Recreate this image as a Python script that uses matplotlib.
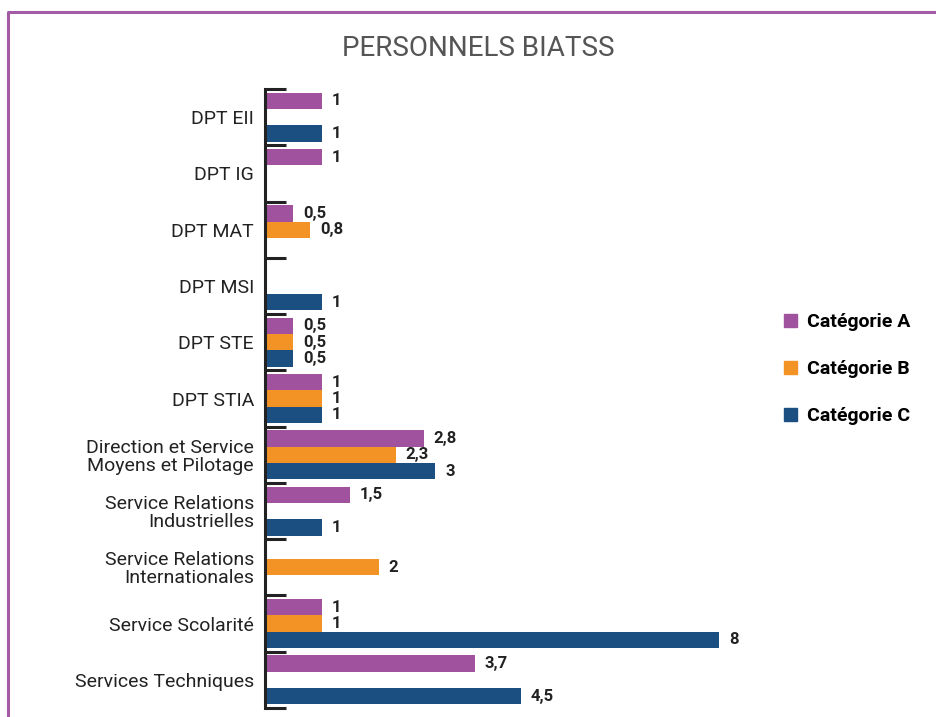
import numpy as np
import matplotlib.pyplot as plt
from matplotlib.patches import Patch
from matplotlib.lines import Line2D

categories = ['DPT EII', 'DPT IG', 'DPT MAT', 'DPT MSI', 'DPT STE', 'DPT STIA',
              'Direction et Service\nMoyens et Pilotage',
              'Service Relations\nIndustrielles',
              'Service Relations\nInternationales',
              'Service Scolarité', 'Services Techniques']
cat_a = [1, 1, 0.5, 0, 0.5, 1, 2.8, 1.5, 0, 1, 3.7]
cat_b = [0, 0, 0.8, 0, 0.5, 1, 2.3, 0, 2, 1, 0]
cat_c = [1, 0, 0, 1, 0.5, 1, 3, 1, 0, 8, 4.5]
series_names = ['Catégorie A', 'Catégorie B', 'Catégorie C']
colors = ['#A0529E', '#F39325', '#1B4F82']

plt.rcParams['font.family'] = ['Roboto', 'DejaVu Sans']

fig = plt.figure(figsize=(9.37, 7.17), dpi=100)
ax = fig.add_axes([265/937, 1 - 708/717, 9*56.8/937, (708 - 89)/717])

y = np.arange(len(categories))
h = 0.29
for k, (vals, col) in enumerate(zip([cat_a, cat_b, cat_c], colors)):
    bars = ax.barh(y + (k - 1)*h, vals, height=h, color=col)
    labels = ['' if v == 0 else f'{v:g}'.replace('.', ',') for v in vals]
    ax.bar_label(bars, labels=labels, padding=7, fontsize=12, fontweight='bold', color='#222222')

ax.set_ylim(len(categories) - 0.5, -0.5)
ax.set_xlim(0, 9)
ax.set_yticks(y)
ax.set_yticklabels(categories, fontsize=14, color='#222222', ha='right', multialignment='right',
                   linespacing=1.0)
ax.set_yticks(np.arange(-0.5, len(categories)), minor=True)
ax.tick_params(axis='y', which='major', length=0, pad=8)
ax.tick_params(axis='y', which='minor', direction='in', length=15, width=2.2, color='#222222')
ax.set_xticks([])
for s in ['top', 'right', 'bottom']:
    ax.spines[s].set_visible(False)
ax.spines['left'].set_linewidth(2.2)
ax.spines['left'].set_color('#222222')

fig.text(478/937, 1 - 48/717, 'PERSONNELS BIATSS', ha='center', va='center',
         fontsize=20, color='#555555', family=['Liberation Sans Narrow', 'Roboto', 'DejaVu Sans'])

handles = [Patch(color=c) for c in colors]
fig.legend(handles, series_names, loc='upper left', bbox_to_anchor=(784/937, 1 - 313/717),
           frameon=False, borderpad=0, borderaxespad=0, handlelength=0.65, handleheight=0.65,
           handletextpad=0.55, labelspacing=1.5, prop={'weight': 'bold', 'size': 14})

frame_col = '#A35BA6'
fig.add_artist(Line2D([8/937, 8/937, 1.0], [0.0, 1 - 12/717, 1 - 12/717],
                      transform=fig.transFigure, color=frame_col, linewidth=2.2))

fig.savefig('out.png', dpi=100)
